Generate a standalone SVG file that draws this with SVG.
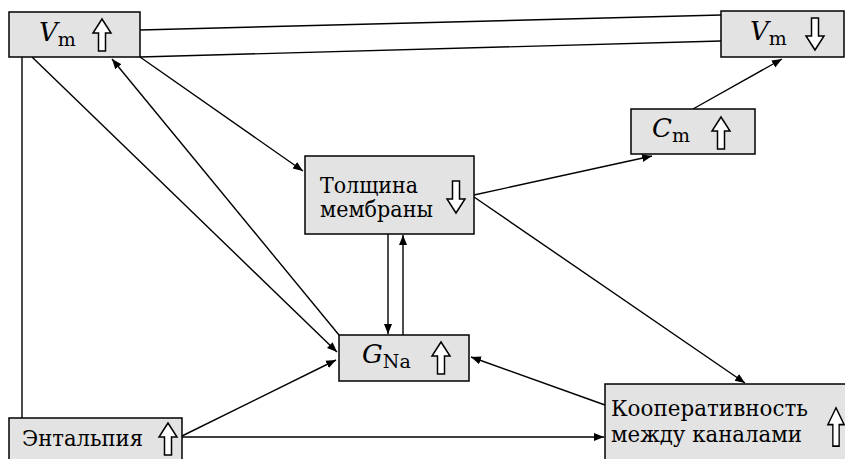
<svg xmlns="http://www.w3.org/2000/svg" width="845" height="459" viewBox="0 0 845 459">
<style>
.box{fill:#e3e3e3;stroke:#000;stroke-width:1.5}
.ar{fill:#fff;stroke:#000;stroke-width:1.5}
.c line{stroke:#000;stroke-width:1.4;fill:none}
</style>
<defs>
<marker id="ah" viewBox="0 0 10 10" refX="10" refY="5" markerWidth="10" markerHeight="10" markerUnits="userSpaceOnUse" orient="auto">
<path d="M0,1 L10,5 L0,9 Z" fill="#000"/>
</marker>
<path id="up" d="M0,-16 L9,-2 L3.5,-2 L3.5,16 L-3.5,16 L-3.5,-2 L-9,-2 Z"/>
</defs>
<rect width="845" height="459" fill="#fff"/>
<g class="c" id="connectors">
<line x1="140" y1="30" x2="721" y2="15"/>
<line x1="140" y1="57" x2="721" y2="41"/>
<line x1="22" y1="57" x2="22" y2="418"/>
<line x1="32" y1="57" x2="337" y2="352" marker-end="url(#ah)"/>
<line x1="339" y1="335" x2="112" y2="59" marker-end="url(#ah)"/>
<line x1="140" y1="57" x2="303" y2="171" marker-end="url(#ah)"/>
<line x1="474" y1="195" x2="652" y2="156" marker-end="url(#ah)"/>
<line x1="693" y1="109" x2="782" y2="59" marker-end="url(#ah)"/>
<line x1="474" y1="197" x2="745" y2="383" marker-end="url(#ah)"/>
<line x1="388" y1="234" x2="388" y2="334" marker-end="url(#ah)"/>
<line x1="403" y1="335" x2="403" y2="235" marker-end="url(#ah)"/>
<line x1="605" y1="405" x2="471" y2="357" marker-end="url(#ah)"/>
<line x1="182" y1="436" x2="336" y2="360" marker-end="url(#ah)"/>
<line x1="182" y1="437" x2="604" y2="437" marker-end="url(#ah)"/>
</g>
<g font-family="DejaVu Serif, serif" font-size="23" fill="#000">
<g id="vm-up">
<rect class="box" x="9" y="12" width="131" height="45"/>
<text x="39" y="41"><tspan font-style="italic" font-size="26">V</tspan><tspan font-size="19" dy="5">m</tspan></text>
<use href="#up" class="ar" transform="translate(102,35)"/>
</g>
<g id="vm-down">
<rect class="box" x="721" y="11" width="123" height="46"/>
<text x="750" y="40"><tspan font-style="italic" font-size="26">V</tspan><tspan font-size="19" dy="5">m</tspan></text>
<use href="#up" class="ar" transform="translate(815,34) rotate(180)"/>
</g>
<g id="cm">
<rect class="box" x="631" y="109" width="124" height="45"/>
<text x="652" y="137"><tspan font-style="italic" font-size="26">C</tspan><tspan font-size="19" dy="5">m</tspan></text>
<use href="#up" class="ar" transform="translate(721,133)"/>
</g>
<g id="thickness">
<rect class="box" x="305" y="156" width="169" height="78"/>
<text x="320" y="193" textLength="98" lengthAdjust="spacingAndGlyphs">Толщина</text>
<text x="320" y="217" textLength="113" lengthAdjust="spacingAndGlyphs">мембраны</text>
<use href="#up" class="ar" transform="translate(456,197) rotate(180)"/>
</g>
<g id="gna">
<rect class="box" x="339" y="335" width="130" height="46"/>
<text x="362" y="363"><tspan font-style="italic" font-size="26">G</tspan><tspan font-size="19" dy="5">Na</tspan></text>
<use href="#up" class="ar" transform="translate(441,358)"/>
</g>
<g id="cooperativity">
<rect class="box" x="605" y="384" width="250" height="90"/>
<text x="611" y="416" textLength="197" lengthAdjust="spacingAndGlyphs">Кооперативность</text>
<text x="611" y="442" textLength="191" lengthAdjust="spacingAndGlyphs">между каналами</text>
<use href="#up" class="ar" transform="translate(836,427) scale(0.9,1.2)"/>
</g>
<g id="enthalpy">
<rect class="box" x="9" y="418" width="173" height="60"/>
<text x="22" y="446" textLength="121" lengthAdjust="spacingAndGlyphs">Энтальпия</text>
<use href="#up" class="ar" transform="translate(168,439)"/>
</g>
</g>
</svg>
